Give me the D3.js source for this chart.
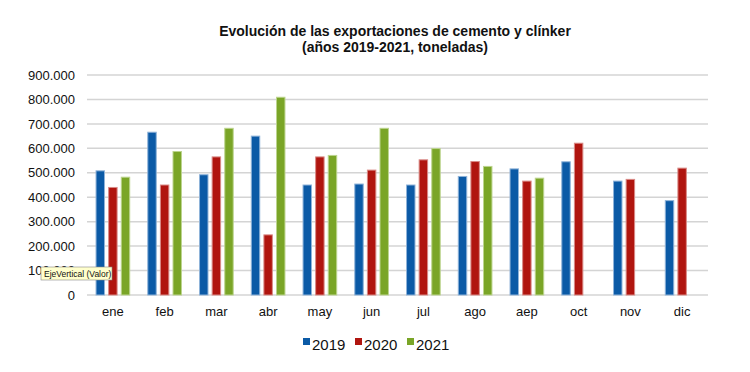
<!DOCTYPE html>
<html>
<head>
<meta charset="utf-8">
<script src="https://cdn.jsdelivr.net/npm/d3@7"></script>
<style>
  body { margin: 0; background: #fff; }
  svg { font-family: "Liberation Sans", Arial, sans-serif; }
</style>
</head>
<body>
<div id="chart"></div>
<script>
// data
var months = ['ene','feb','mar','abr','may','jun','jul','ago','aep','oct','nov','dic'];
var years = ['2019','2020','2021'];
var v2019 = [510000, 668000, 494000, 652000, 452000, 456000, 452000, 487000, 518000, 547000, 468000, 388000];
var v2020 = [442000, 452000, 567000, 248000, 567000, 513000, 555000, 548000, 468000, 623000, 475000, 521000];
var v2021 = [484000, 589000, 684000, 811000, 573000, 684000, 601000, 528000, 480000, null, null, null];
var yTicks = [0, 100000, 200000, 300000, 400000, 500000, 600000, 700000, 800000, 900000];
var colors = ['#0b5aa6', '#b0150f', '#7aa527'];
var strokes = ['#8fb3d9', '#d98a86', '#bcd48e'];

var width = 750, height = 372;
var plotL = 87, plotR = 708, plotT = 75, plotB = 295;

var svg = d3.select('#chart').append('svg')
    .attr('width', width)
    .attr('height', height);

var x = d3.scaleBand().domain(months).range([plotL, plotR]).paddingInner(0.33).paddingOuter(0.165);
var xs = d3.scaleBand().domain(years).range([0, x.bandwidth()]).paddingInner(0.25);
var y = d3.scaleLinear().domain([0, 900000]).range([plotB, plotT]);

var fmt = function(d){ return d3.format(',')(d).replace(/,/g, '.'); };

// grid
svg.append('g').selectAll('line').data(yTicks)
  .enter().append('line')
    .attr('x1', plotL).attr('x2', plotR)
    .attr('y1', function(d){ return y(d); })
    .attr('y2', function(d){ return y(d); })
    .attr('stroke', '#d4d4d4')
    .attr('stroke-width', 1.5);

// y axis
var yAxis = svg.append('g')
    .attr('transform', 'translate(' + (plotL - 12) + ',0)')
    .call(d3.axisLeft(y).tickValues(yTicks).tickFormat(fmt).tickSize(0).tickPadding(0));
yAxis.select('.domain').remove();
yAxis.selectAll('text').attr('font-size', 13).attr('fill', '#111').attr('font-family', null);

// x axis
var xAxis = svg.append('g')
    .attr('transform', 'translate(0,' + plotB + ')')
    .call(d3.axisBottom(x).tickSize(0).tickPadding(12));
xAxis.select('.domain').remove();
xAxis.selectAll('text').attr('font-size', 13).attr('fill', '#111').attr('font-family', null);

// bars
var series = [v2019, v2020, v2021];
var bars = [];
series.forEach(function(vals, s){
  vals.forEach(function(v, i){
    if (v != null) bars.push({m: months[i], yr: years[s], v: v, s: s});
  });
});

svg.append('g').selectAll('rect').data(bars)
  .enter().append('rect')
    .attr('x', function(d){ return x(d.m) + xs(d.yr) + 0.5; })
    .attr('y', function(d){ return y(d.v) + 0.5; })
    .attr('width', xs.bandwidth() - 1)
    .attr('height', function(d){ return plotB - y(d.v) - 0.5; })
    .attr('fill', function(d){ return colors[d.s]; })
    .attr('stroke', function(d){ return strokes[d.s]; })
    .attr('stroke-width', 1);

// title
var title = svg.append('text')
    .attr('text-anchor', 'middle')
    .attr('font-size', 14)
    .attr('font-weight', 'bold')
    .attr('fill', '#111');
title.append('tspan').attr('x', 395).attr('y', 36).text('Evolución de las exportaciones de cemento y clínker');
title.append('tspan').attr('x', 395).attr('y', 52).text('(años 2019-2021, toneladas)');

// legend
var legendX = [303, 355, 407];
var legend = svg.append('g').selectAll('g').data(years)
  .enter().append('g')
    .attr('transform', function(d, i){ return 'translate(' + legendX[i] + ',344)'; });
legend.append('rect')
    .attr('x', 0).attr('y', -6)
    .attr('width', 7).attr('height', 7)
    .attr('fill', function(d, i){ return colors[i]; });
legend.append('text')
    .attr('x', 9).attr('y', 6)
    .attr('font-size', 15)
    .attr('fill', '#111')
    .text(function(d){ return d; });

// tooltip box over the axis
var tip = svg.append('g').attr('transform', 'translate(41,267)');
tip.append('rect')
    .attr('width', 71).attr('height', 13)
    .attr('fill', '#ffffcc')
    .attr('stroke', '#888')
    .attr('stroke-width', 0.6);
tip.append('text')
    .attr('x', 3).attr('y', 10)
    .attr('font-size', 8.5)
    .attr('fill', '#111')
    .text('EjeVertical (Valor)');
</script>
</body>
</html>
